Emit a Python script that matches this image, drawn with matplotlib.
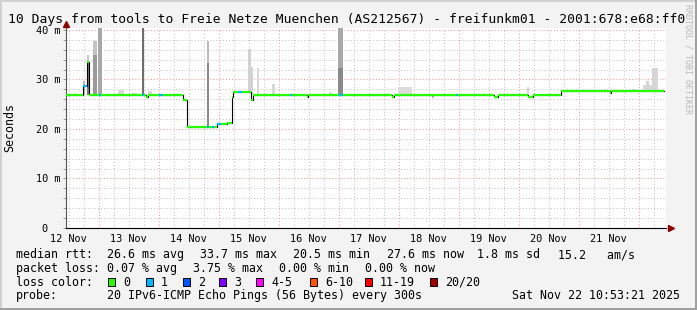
import numpy as np
import pandas as pd
import matplotlib
matplotlib.use('Agg')
import matplotlib.pyplot as plt
import matplotlib.dates as mdates
from matplotlib.patches import Rectangle

W, H = 697, 310
MONO = 'DejaVu Sans Mono'

start = pd.Timestamp('2025-11-12 10:53:21')

# median rtt as steps: hour since start where the step begins, value in ms, lost pings
med_hours = [0.0, 6.9, 8.3, 9.2, 13.2, 14.1, 30.4, 31.1, 32.1, 32.8, 37.2, 38.9,
             46.9, 48.3, 56.3, 57.3, 58.3, 59.2, 60.5, 62.0, 64.4, 66.3, 66.8,
             68.9, 70.3, 74.0, 74.8, 89.4, 90.3, 96.4, 96.9, 109.2, 110.8,
             130.5, 131.1, 156.1, 156.7, 171.2, 172.8, 184.7, 186.8, 198.0,
             217.4, 218.0]
med_ms = [26.9, 28.7, 33.6, 26.9, 26.9, 26.9, 26.9, 26.9, 26.5, 26.9, 26.9, 26.9,
          25.9, 20.5, 20.5, 20.5, 20.5, 20.5, 21.0, 21.0, 21.3, 26.4, 27.5,
          27.5, 27.5, 25.9, 26.9, 26.9, 26.9, 26.5, 26.9, 26.9, 26.9,
          26.5, 26.9, 26.9, 26.9, 26.5, 26.9, 26.5, 26.9, 27.6,
          27.2, 27.6]
med_loss = [0, 1, 0, 0, 1, 0, 1, 0, 0, 0, 1, 0,
            0, 0, 1, 0, 1, 0, 1, 0, 0, 0, 0,
            1, 0, 0, 0, 1, 0, 0, 0, 1, 0,
            0, 0, 1, 0, 0, 0, 0, 0, 0,
            0, 0]
med_last_hour = 239.0

# smoke (ping spread) blocks
smoke_h0 = [6.7, 8.3, 8.3, 10.9, 10.9, 12.9, 20.9, 26.3, 30.3, 32.8, 56.3, 56.3,
            72.9, 74.0, 76.3, 82.3, 105.3, 108.9, 108.9, 132.9, 146.4, 184.3,
            226.9, 230.9, 232.0, 234.3]
smoke_h1 = [7.7, 9.3, 9.3, 12.5, 12.5, 14.3, 23.2, 28.3, 31.1, 34.3, 57.1, 57.1,
            74.0, 74.9, 77.2, 83.6, 106.3, 110.9, 110.9, 138.3, 147.0, 185.3,
            228.3, 234.3, 233.2, 237.0]
smoke_lo = [26.9, 26.9, 33.6, 27.0, 34.9, 26.9, 26.9, 26.9, 26.9, 26.9, 20.5, 33.3,
            27.5, 27.0, 27.0, 26.9, 26.9, 26.9, 32.3, 26.9, 26.3, 26.9,
            27.6, 27.6, 27.6, 27.6]
smoke_hi = [29.6, 33.6, 35.0, 34.9, 37.8, 40.5, 27.9, 27.2, 40.5, 27.7, 33.3, 37.8,
            36.2, 32.6, 32.3, 29.1, 27.4, 32.3, 40.5, 28.5, 26.9, 28.5,
            28.1, 28.9, 29.6, 32.3]
smoke_grey = ['#b4b4b4', '#7a7a7a', '#c8c8c8', '#9a9a9a', '#c4c4c4', '#a8a8a8',
              '#d8d8d8', '#dadada', '#6e6e6e', '#d8d8d8', '#8a8a8a', '#bcbcbc',
              '#d2d2d2', '#d2d2d2', '#d8d8d8', '#d8d8d8', '#dadada', '#8a8a8a',
              '#a8a8a8', '#dcdcdc', '#b0b0b0', '#d8d8d8', '#d8d8d8', '#d8d8d8',
              '#d4d4d4', '#d6d6d6']

loss_colors = {0: '#26ff00', 1: '#00b8ff'}
legend_labels = ['0', '1', '2', '3', '4-5', '6-10', '11-19', '20/20']
legend_colors = ['#26ff00', '#00b8ff', '#0059ff', '#7e00ff', '#ff00ff',
                 '#ff5500', '#ff0000', '#a10000']

day_labels = ['12 Nov', '13 Nov', '14 Nov', '15 Nov', '16 Nov',
              '17 Nov', '18 Nov', '19 Nov', '20 Nov', '21 Nov']
ytick_vals = [0, 10, 20, 30, 40]
ytick_labels = ['0  ', '10 m', '20 m', '30 m', '40 m']

t0 = mdates.date2num(start.to_pydatetime())
def hnum(h):
    return t0 + np.asarray(h, dtype=float) / 24.0

fig = plt.figure(figsize=(W / 100, H / 100), dpi=100, facecolor='#f3f3f3')

def px(x, y):
    return x / W, 1 - y / H

ax = fig.add_axes([66 / W, (H - 228) / H, 600 / W, 200 / H])
ax.set_facecolor('white')
ax.set_xlim(t0, t0 + 10)
ax.set_ylim(0, 40.4)

# grid
minor_grey = '#c4c4c4'
major_red = '#f29a9a'
midnight0 = mdates.date2num(pd.Timestamp('2025-11-12').to_pydatetime())
for k in range(0, 11 * 4):
    t = midnight0 + k * 0.25
    if t <= t0 or t >= t0 + 10:
        continue
    if k % 4 == 0:
        ax.axvline(t, color=major_red, lw=0.75, ls=(0, (1, 2)), zorder=0.6)
    else:
        ax.axvline(t, color=minor_grey, lw=0.75, ls=(0, (1, 2)), zorder=0.5)
ax.set_yticks(ytick_vals)
ax.set_yticklabels(ytick_labels)
ax.set_yticks(np.arange(0, 41, 2), minor=True)
ax.yaxis.grid(True, which='minor', color=minor_grey, lw=0.75, ls=(0, (1, 2)))
ax.yaxis.grid(True, which='major', color=major_red, lw=0.75, ls=(0, (1, 2)))
ax.set_axisbelow(True)
ax.tick_params(axis='y', which='both', length=2.2, width=0.7, color='#999999',
               pad=2, labelsize=7.4, labelfontfamily=MONO)

noons = [mdates.date2num((pd.Timestamp('2025-11-12 12:00') + pd.Timedelta(days=i)).to_pydatetime())
         for i in range(len(day_labels))]
ax.set_xticks(noons)
ax.set_xticklabels(day_labels, fontfamily=MONO, fontsize=7.4)
ax.tick_params(axis='x', length=0, pad=4)

for s in ['top', 'right']:
    ax.spines[s].set_visible(False)
ax.spines['left'].set_color('#555555')
ax.spines['left'].set_linewidth(0.8)
ax.spines['bottom'].set_color('black')
ax.spines['bottom'].set_linewidth(0.8)

# smoke
x0 = hnum(smoke_h0)
x1 = hnum(smoke_h1)
ax.bar(x0, np.array(smoke_hi) - np.array(smoke_lo), bottom=smoke_lo,
       width=x1 - x0, align='edge', color=smoke_grey, linewidth=0, zorder=2)

# median line: black connectors, coloured horizontal pieces
mh = list(med_hours) + [med_last_hour]
ax.step(hnum(mh), list(med_ms) + [med_ms[-1]], where='post',
        color='black', lw=0.8, zorder=3)
for i in range(len(med_hours)):
    ax.hlines(med_ms[i], hnum(mh[i]), hnum(mh[i + 1]),
              color=loss_colors[med_loss[i]], lw=1.6, zorder=4)

# axis arrows
ax.plot([0], [1.02], marker='^', ms=4, color='#8b0000', transform=ax.transAxes,
        clip_on=False, zorder=5)
ax.plot([1.008], [0], marker='>', ms=4, color='#8b0000', transform=ax.transAxes,
        clip_on=False, zorder=5)

# texts
fig.text(*px(8, 19), '10 Days from tools to Freie Netze Muenchen (AS212567) - freifunkm01 - 2001:678:e68:ff0',
         fontfamily=MONO, fontsize=9.4, va='center', ha='left')
fig.text(*px(10, 127), 'Seconds', rotation=90, fontfamily=MONO, fontsize=8.4,
         va='center', ha='center')
fig.text(*px(688, 4), 'RRDTOOL / TOBI OETIKER', rotation=270, fontfamily=MONO,
         fontsize=6, color='#b8b8b8', va='top', ha='center')

fs = 8.4
rows = [
    (254.5, [(16, 'median rtt:'), (107.3, '26.6 ms avg'), (200, '33.7 ms max'),
             (293.3, '20.5 ms min'), (386.7, '27.6 ms now'), (476.7, '1.8 ms sd'),
             (558.3, '15.2   am/s')]),
    (268.5, [(16, 'packet loss:'), (107.3, '0.07 % avg'), (193, '3.75 % max'),
             (279.3, '0.00 % min'), (365, '0.00 % now')]),
    (282, [(16, 'loss color:')]),
    (295.7, [(16, 'probe:'), (107.3, '20 IPv6-ICMP Echo Pings (56 Bytes) every 300s')]),
]
for y, items in rows:
    for x, s in items:
        fig.text(*px(x, y), s, fontfamily=MONO, fontsize=fs, va='center', ha='left')
fig.text(*px(680, 295.7), 'Sat Nov 22 10:53:21 2025', fontfamily=MONO, fontsize=fs,
         va='center', ha='right')

box_x = [108.3, 145.7, 182.7, 219.3, 256, 310, 365, 430]
for bx, lab, col in zip(box_x, legend_labels, legend_colors):
    fx, fy = px(bx, 286)
    fig.patches.append(Rectangle((fx, fy), 7 / W, 8 / H, transform=fig.transFigure,
                                 facecolor=col, edgecolor='black', lw=0.7))
    fig.text(*px(bx + 15, 282), lab, fontfamily=MONO, fontsize=fs, va='center', ha='left')

# image border
fig.patches.append(Rectangle((0, 0), 2 / W, 1, transform=fig.transFigure, facecolor='#d0d0d0', lw=0))
fig.patches.append(Rectangle((0, 1 - 2 / H), 1, 2 / H, transform=fig.transFigure, facecolor='#d0d0d0', lw=0))
fig.patches.append(Rectangle((1 - 2 / W, 0), 2 / W, 1, transform=fig.transFigure, facecolor='#a0a0a0', lw=0))
fig.patches.append(Rectangle((0, 0), 1, 2 / H, transform=fig.transFigure, facecolor='#a0a0a0', lw=0))

fig.savefig('out.png', dpi=100, facecolor=fig.get_facecolor())
